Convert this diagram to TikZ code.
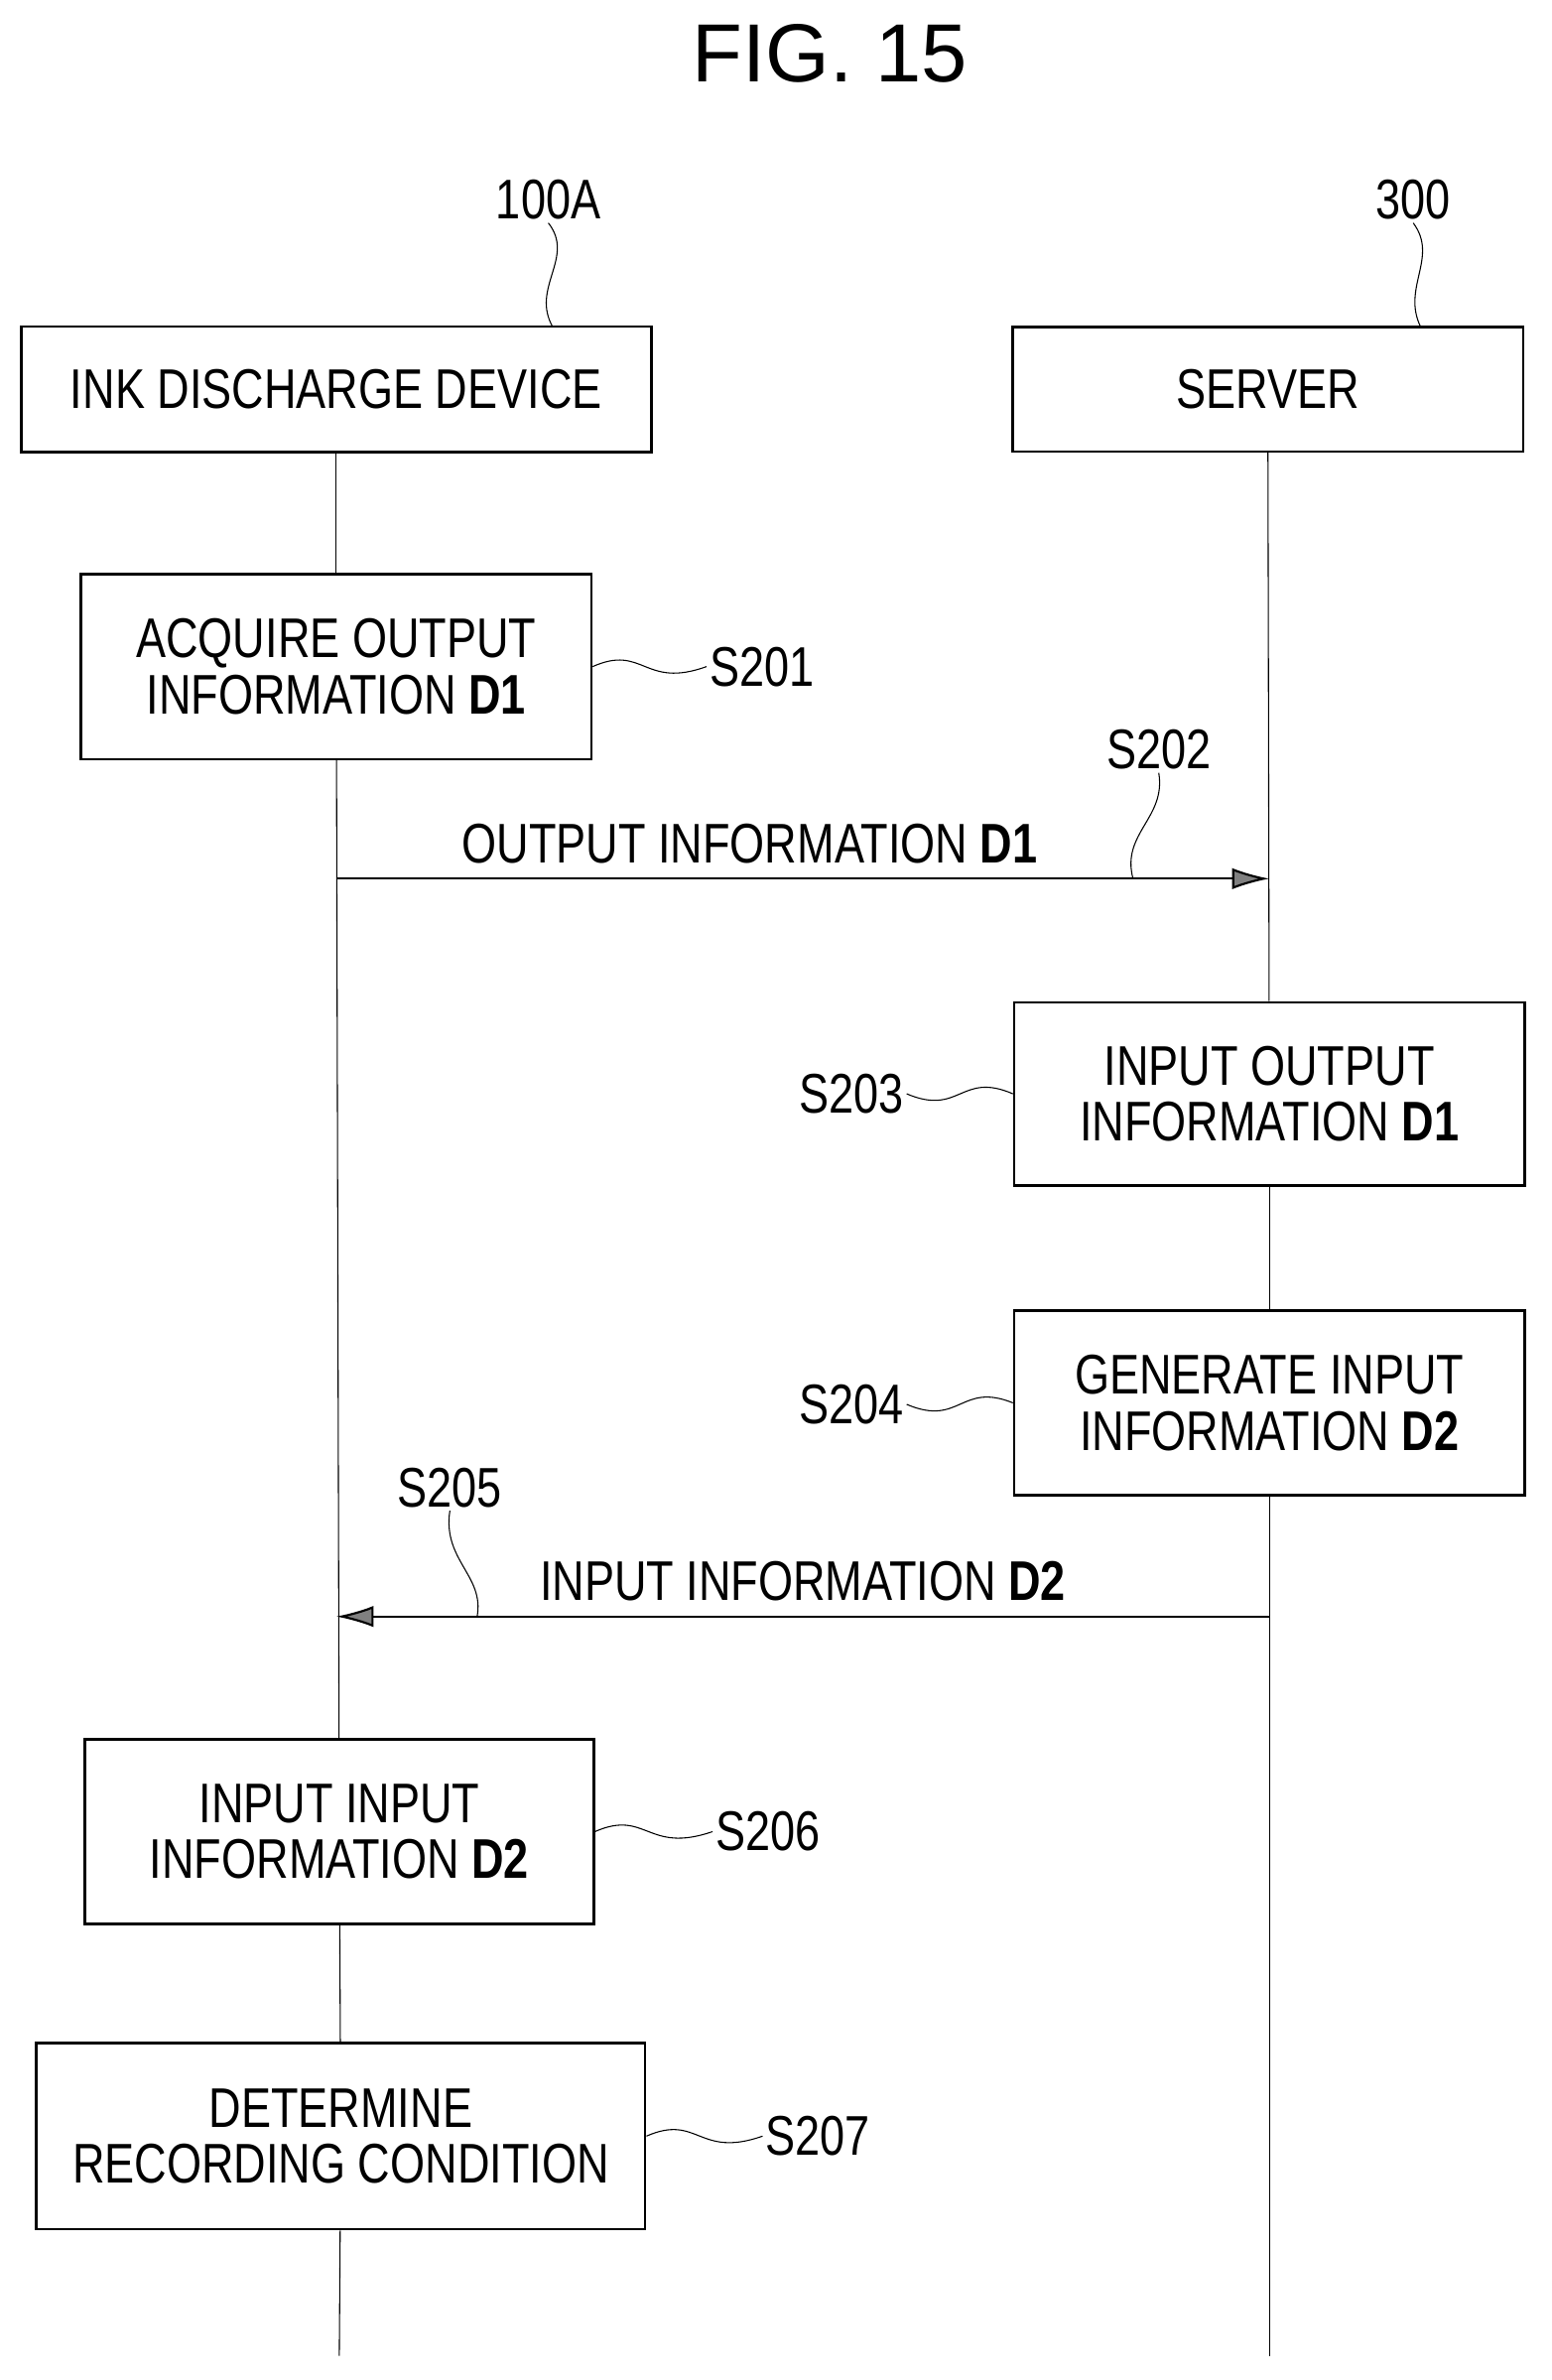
\documentclass[tikz,border=0pt]{standalone}
\usepackage{fontspec}
\setmainfont{Liberation Sans}[FakeStretch=0.8]
\newfontfamily\titlefont{Liberation Sans}
\usetikzlibrary{arrows.meta}
\tikzstyle{stepbox} = [align=center,draw=black,line width=0.9pt,rectangle,inner sep=0pt,font=\fontsize{21}{21}\selectfont,text centered]
\tikzstyle{tag} = [font=\fontsize{21}{21}\selectfont,inner sep=1pt]
\tikzstyle{msg} = [line width=0.8pt,-{Latex[length=14pt,width=8pt,fill=gray]}]
\begin{document}
\begin{tikzpicture}[x=0.02cm,y=-0.02cm]
	\useasboundingbox (0,0) rectangle (1024,1571);
	\node (title) at (548,35) {\titlefont\fontsize{31}{31}\selectfont FIG. 15};
	% participants
	\node (ink) [stepbox,minimum width=416*0.02cm,minimum height=83*0.02cm] at (222,257) {INK DISCHARGE DEVICE};
	\node (server) [stepbox,minimum width=337*0.02cm,minimum height=82*0.02cm] at (837,257) {SERVER};
	\node (t100) [tag] at (362,132) {100A};
	\node (t300) [tag] at (933,132) {300};
	\draw (t100.south) .. controls (380,170) and (350,190) .. (365,216);
	\draw (t300.south) .. controls (950,170) and (925,190) .. (938,216);
	% steps
	\node (s201) [stepbox,minimum width=337*0.02cm,minimum height=122*0.02cm] at (222,440) {ACQUIRE OUTPUT\\INFORMATION \textbf{D1}};
	\node (s203) [stepbox,minimum width=337*0.02cm,minimum height=121*0.02cm] at (838,722) {INPUT OUTPUT\\INFORMATION \textbf{D1}};
	\node (s204) [stepbox,minimum width=337*0.02cm,minimum height=122*0.02cm] at (838,926) {GENERATE INPUT\\INFORMATION \textbf{D2}};
	\node (s206) [stepbox,minimum width=336*0.02cm,minimum height=122*0.02cm] at (224,1209) {INPUT INPUT\\INFORMATION \textbf{D2}};
	\node (s207) [stepbox,minimum width=402*0.02cm,minimum height=123*0.02cm] at (225,1410) {DETERMINE\\RECORDING CONDITION};
	% lifelines
	\coordinate (endl) at (224,1555);
	\coordinate (endr) at (838,1555);
	\draw (ink) -- (s201);
	\draw (s201) -- (s206);
	\draw (s206) -- (s207);
	\draw (s207) -- (endl);
	\draw (server) -- (s203);
	\draw (s203) -- (s204);
	\draw (s204) -- (endr);
	% messages
	\coordinate (a1) at (222,580);
	\coordinate (b1) at (838,580);
	\coordinate (a2) at (838,1067);
	\coordinate (b2) at (222,1067);
	\draw [msg] (a1) -- (b1);
	\draw [msg] (a2) -- (b2);
	\node (m1) [tag] at (495,557) {OUTPUT INFORMATION \textbf{D1}};
	\node (m2) [tag] at (530,1044) {INPUT INFORMATION \textbf{D2}};
	% step labels
	\node (l201) [tag] at (503,440) {S201};
	\node (l202) [tag] at (765,495) {S202};
	\node (l203) [tag] at (562,722) {S203};
	\node (l204) [tag] at (562,927) {S204};
	\node (l205) [tag] at (297,982) {S205};
	\node (l206) [tag] at (507,1209) {S206};
	\node (l207) [tag] at (540,1410) {S207};
	\draw (s201.east) .. controls (425,425) and (425,455) .. (l201.west);
	\draw (s206.east) .. controls (427,1194) and (427,1224) .. (l206.west);
	\draw (s207.east) .. controls (461,1395) and (461,1425) .. (l207.west);
	\draw (s203.west) .. controls (634,707) and (634,737) .. (l203.east);
	\draw (s204.west) .. controls (634,912) and (634,942) .. (l204.east);
	\draw (l202.south) .. controls (770,540) and (740,550) .. (748,580);
	\draw (l205.south) .. controls (292,1030) and (320,1040) .. (315,1067);
\end{tikzpicture}
\end{document}
